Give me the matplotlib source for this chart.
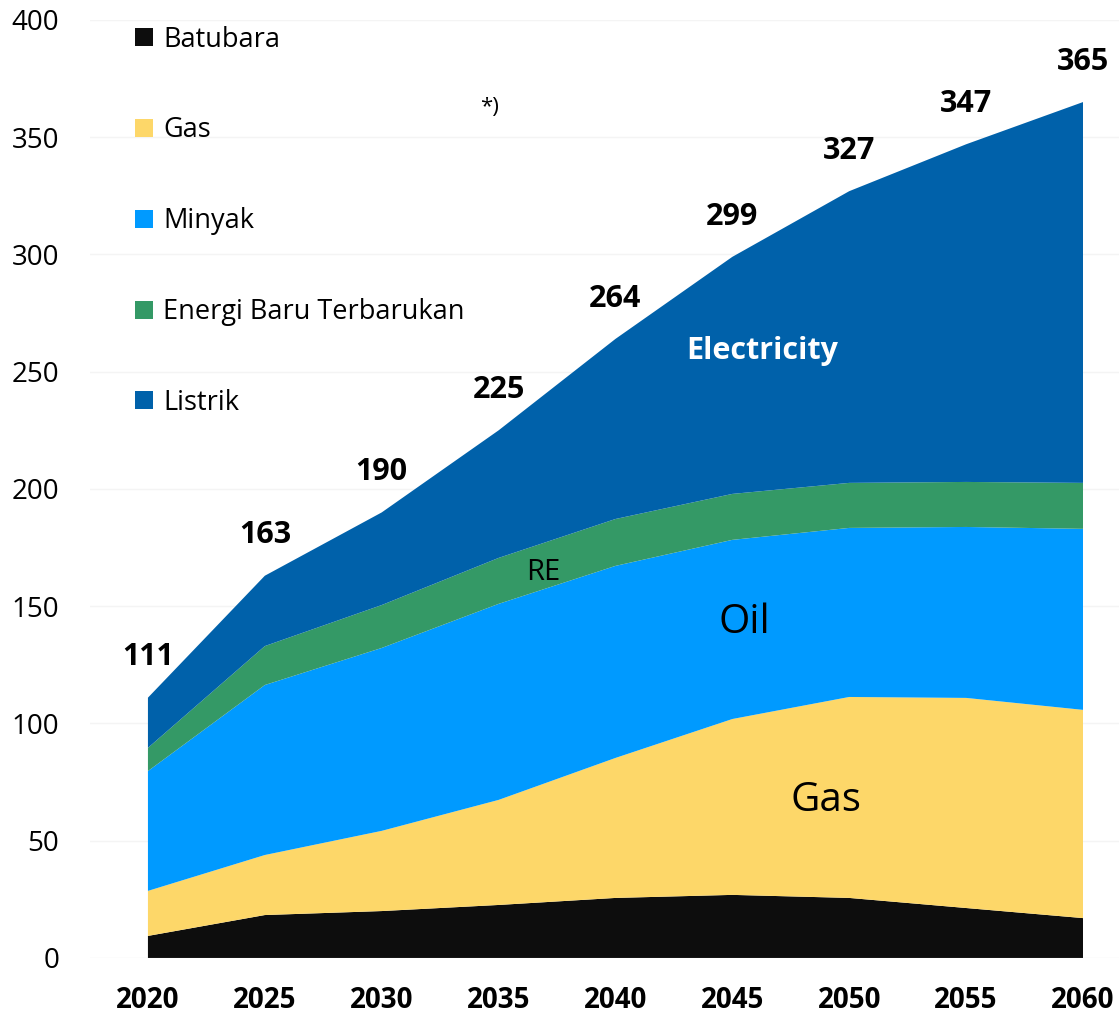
import numpy as np
import matplotlib.pyplot as plt
from matplotlib.patches import Patch

# data (Mtoe)
years = [2020, 2025, 2030, 2035, 2040, 2045, 2050, 2055, 2060]
batubara = [9.4, 18.3, 20.0, 22.6, 25.6, 26.9, 25.6, 21.3, 17.0]
gas = [19.2, 25.6, 34.2, 44.8, 59.7, 75.0, 85.7, 89.6, 88.8]
minyak = [51.1, 72.5, 78.0, 83.6, 81.9, 76.4, 72.1, 72.9, 77.2]
ebt = [9.9, 16.6, 18.3, 19.6, 20.0, 19.6, 19.2, 19.2, 19.6]
listrik = [21.4, 30.0, 39.5, 54.4, 76.8, 101.1, 124.4, 144.0, 162.4]
totals = [111, 163, 190, 225, 264, 299, 327, 347, 365]

series = [batubara, gas, minyak, ebt, listrik]
names = ["Batubara", "Gas", "Minyak", "Energi Baru Terbarukan", "Listrik"]
colors = ["#0d0d0d", "#fdd769", "#009aff", "#349966", "#0061aa"]

plt.rcParams['font.family'] = ['Open Sans', 'DejaVu Sans']

fig = plt.figure(figsize=(11.19, 10.15), dpi=100)
ax = fig.add_axes([0.0804, 0.0562, 0.9196, 0.9241])

ax.stackplot(years, *series, colors=colors, linewidth=0)

ax.set_xlim(2017.52, 2061.54)
ax.set_ylim(0, 400)
ax.set_yticks(np.arange(0, 401, 50))
ax.set_xticks(years)
ax.grid(axis='y', color='#f4f4f4', linewidth=1)
ax.set_axisbelow(True)
for s in ax.spines.values():
    s.set_visible(False)
ax.tick_params(axis='y', length=0, pad=22, labelsize=20)
ax.tick_params(axis='x', length=0, pad=20, labelsize=20)
for lbl in ax.get_xticklabels():
    lbl.set_fontweight('bold')

# totals above the stack
for x, t in zip(years, totals):
    ax.annotate(str(t), (x, t), xytext=(0, 29), textcoords='offset points',
                ha='center', va='center', fontsize=22, fontweight='bold')

# in-chart labels
ax.text(2046.3, 259, "Electricity", color='white', fontsize=22,
        fontweight='bold', ha='center', va='center')
ax.text(2045.5, 143, "Oil", fontsize=29, ha='center', va='center')
ax.text(2049.0, 67, "Gas", fontsize=29, ha='center', va='center')
ax.text(2036.9, 164.5, "RE", fontsize=21, ha='center', va='center')
ax.text(2034.6, 362.5, "*)", fontsize=16, ha='center', va='center')

handles = [Patch(facecolor=c, label=n) for c, n in zip(colors, names)]
ax.legend(handles=handles, loc='upper left', bbox_to_anchor=(0.020, 1.02),
          frameon=False, fontsize=19.5, labelspacing=2.32,
          handlelength=0.65, handleheight=0.65, handletextpad=0.4)

fig.savefig("out.png", dpi=100)
